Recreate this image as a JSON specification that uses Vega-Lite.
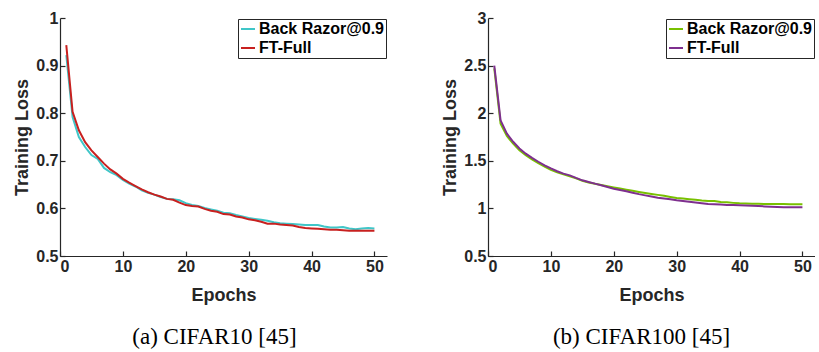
{
  "$schema": "https://vega.github.io/schema/vega-lite/v6.json",
  "padding": {"left": 13, "top": 10, "right": 0, "bottom": 0},
  "background": "white",
  "spacing": 54,
  "datasets": {
    "cifar10": [
      {"epoch":1,"method":"Back Razor@0.9","loss":0.922},{"epoch":1,"method":"FT-Full","loss":0.943},
      {"epoch":2,"method":"Back Razor@0.9","loss":0.792},{"epoch":2,"method":"FT-Full","loss":0.803},
      {"epoch":3,"method":"Back Razor@0.9","loss":0.750},{"epoch":3,"method":"FT-Full","loss":0.764},
      {"epoch":4,"method":"Back Razor@0.9","loss":0.729},{"epoch":4,"method":"FT-Full","loss":0.739},
      {"epoch":5,"method":"Back Razor@0.9","loss":0.712},{"epoch":5,"method":"FT-Full","loss":0.722},
      {"epoch":6,"method":"Back Razor@0.9","loss":0.704},{"epoch":6,"method":"FT-Full","loss":0.708},
      {"epoch":7,"method":"Back Razor@0.9","loss":0.685},{"epoch":7,"method":"FT-Full","loss":0.694},
      {"epoch":8,"method":"Back Razor@0.9","loss":0.676},{"epoch":8,"method":"FT-Full","loss":0.682},
      {"epoch":9,"method":"Back Razor@0.9","loss":0.670},{"epoch":9,"method":"FT-Full","loss":0.673},
      {"epoch":10,"method":"Back Razor@0.9","loss":0.660},{"epoch":10,"method":"FT-Full","loss":0.662},
      {"epoch":11,"method":"Back Razor@0.9","loss":0.652},{"epoch":11,"method":"FT-Full","loss":0.654},
      {"epoch":12,"method":"Back Razor@0.9","loss":0.646},{"epoch":12,"method":"FT-Full","loss":0.647},
      {"epoch":13,"method":"Back Razor@0.9","loss":0.638},{"epoch":13,"method":"FT-Full","loss":0.640},
      {"epoch":14,"method":"Back Razor@0.9","loss":0.633},{"epoch":14,"method":"FT-Full","loss":0.634},
      {"epoch":15,"method":"Back Razor@0.9","loss":0.629},{"epoch":15,"method":"FT-Full","loss":0.629},
      {"epoch":16,"method":"Back Razor@0.9","loss":0.624},{"epoch":16,"method":"FT-Full","loss":0.625},
      {"epoch":17,"method":"Back Razor@0.9","loss":0.620},{"epoch":17,"method":"FT-Full","loss":0.620},
      {"epoch":18,"method":"Back Razor@0.9","loss":0.619},{"epoch":18,"method":"FT-Full","loss":0.618},
      {"epoch":19,"method":"Back Razor@0.9","loss":0.617},{"epoch":19,"method":"FT-Full","loss":0.612},
      {"epoch":20,"method":"Back Razor@0.9","loss":0.611},{"epoch":20,"method":"FT-Full","loss":0.607},
      {"epoch":21,"method":"Back Razor@0.9","loss":0.607},{"epoch":21,"method":"FT-Full","loss":0.605},
      {"epoch":22,"method":"Back Razor@0.9","loss":0.605},{"epoch":22,"method":"FT-Full","loss":0.604},
      {"epoch":23,"method":"Back Razor@0.9","loss":0.601},{"epoch":23,"method":"FT-Full","loss":0.599},
      {"epoch":24,"method":"Back Razor@0.9","loss":0.598},{"epoch":24,"method":"FT-Full","loss":0.595},
      {"epoch":25,"method":"Back Razor@0.9","loss":0.595},{"epoch":25,"method":"FT-Full","loss":0.593},
      {"epoch":26,"method":"Back Razor@0.9","loss":0.591},{"epoch":26,"method":"FT-Full","loss":0.588},
      {"epoch":27,"method":"Back Razor@0.9","loss":0.590},{"epoch":27,"method":"FT-Full","loss":0.587},
      {"epoch":28,"method":"Back Razor@0.9","loss":0.586},{"epoch":28,"method":"FT-Full","loss":0.583},
      {"epoch":29,"method":"Back Razor@0.9","loss":0.583},{"epoch":29,"method":"FT-Full","loss":0.581},
      {"epoch":30,"method":"Back Razor@0.9","loss":0.580},{"epoch":30,"method":"FT-Full","loss":0.577},
      {"epoch":31,"method":"Back Razor@0.9","loss":0.578},{"epoch":31,"method":"FT-Full","loss":0.575},
      {"epoch":32,"method":"Back Razor@0.9","loss":0.576},{"epoch":32,"method":"FT-Full","loss":0.572},
      {"epoch":33,"method":"Back Razor@0.9","loss":0.574},{"epoch":33,"method":"FT-Full","loss":0.568},
      {"epoch":34,"method":"Back Razor@0.9","loss":0.571},{"epoch":34,"method":"FT-Full","loss":0.568},
      {"epoch":35,"method":"Back Razor@0.9","loss":0.569},{"epoch":35,"method":"FT-Full","loss":0.566},
      {"epoch":36,"method":"Back Razor@0.9","loss":0.568},{"epoch":36,"method":"FT-Full","loss":0.565},
      {"epoch":37,"method":"Back Razor@0.9","loss":0.567},{"epoch":37,"method":"FT-Full","loss":0.564},
      {"epoch":38,"method":"Back Razor@0.9","loss":0.566},{"epoch":38,"method":"FT-Full","loss":0.561},
      {"epoch":39,"method":"Back Razor@0.9","loss":0.565},{"epoch":39,"method":"FT-Full","loss":0.559},
      {"epoch":40,"method":"Back Razor@0.9","loss":0.565},{"epoch":40,"method":"FT-Full","loss":0.558},
      {"epoch":41,"method":"Back Razor@0.9","loss":0.565},{"epoch":41,"method":"FT-Full","loss":0.557},
      {"epoch":42,"method":"Back Razor@0.9","loss":0.562},{"epoch":42,"method":"FT-Full","loss":0.556},
      {"epoch":43,"method":"Back Razor@0.9","loss":0.560},{"epoch":43,"method":"FT-Full","loss":0.555},
      {"epoch":44,"method":"Back Razor@0.9","loss":0.560},{"epoch":44,"method":"FT-Full","loss":0.555},
      {"epoch":45,"method":"Back Razor@0.9","loss":0.561},{"epoch":45,"method":"FT-Full","loss":0.554},
      {"epoch":46,"method":"Back Razor@0.9","loss":0.558},{"epoch":46,"method":"FT-Full","loss":0.553},
      {"epoch":47,"method":"Back Razor@0.9","loss":0.556},{"epoch":47,"method":"FT-Full","loss":0.553},
      {"epoch":48,"method":"Back Razor@0.9","loss":0.558},{"epoch":48,"method":"FT-Full","loss":0.553},
      {"epoch":49,"method":"Back Razor@0.9","loss":0.559},{"epoch":49,"method":"FT-Full","loss":0.553},
      {"epoch":50,"method":"Back Razor@0.9","loss":0.558},{"epoch":50,"method":"FT-Full","loss":0.553}
    ],
    "cifar100": [
      {"epoch":1,"method":"Back Razor@0.9","loss":2.47},{"epoch":1,"method":"FT-Full","loss":2.50},
      {"epoch":2,"method":"Back Razor@0.9","loss":1.89},{"epoch":2,"method":"FT-Full","loss":1.925},
      {"epoch":3,"method":"Back Razor@0.9","loss":1.76},{"epoch":3,"method":"FT-Full","loss":1.785},
      {"epoch":4,"method":"Back Razor@0.9","loss":1.68},{"epoch":4,"method":"FT-Full","loss":1.70},
      {"epoch":5,"method":"Back Razor@0.9","loss":1.61},{"epoch":5,"method":"FT-Full","loss":1.63},
      {"epoch":6,"method":"Back Razor@0.9","loss":1.56},{"epoch":6,"method":"FT-Full","loss":1.575},
      {"epoch":7,"method":"Back Razor@0.9","loss":1.515},{"epoch":7,"method":"FT-Full","loss":1.53},
      {"epoch":8,"method":"Back Razor@0.9","loss":1.475},{"epoch":8,"method":"FT-Full","loss":1.49},
      {"epoch":9,"method":"Back Razor@0.9","loss":1.44},{"epoch":9,"method":"FT-Full","loss":1.453},
      {"epoch":10,"method":"Back Razor@0.9","loss":1.405},{"epoch":10,"method":"FT-Full","loss":1.42},
      {"epoch":11,"method":"Back Razor@0.9","loss":1.38},{"epoch":11,"method":"FT-Full","loss":1.39},
      {"epoch":12,"method":"Back Razor@0.9","loss":1.357},{"epoch":12,"method":"FT-Full","loss":1.365},
      {"epoch":13,"method":"Back Razor@0.9","loss":1.337},{"epoch":13,"method":"FT-Full","loss":1.347},
      {"epoch":14,"method":"Back Razor@0.9","loss":1.315},{"epoch":14,"method":"FT-Full","loss":1.32},
      {"epoch":15,"method":"Back Razor@0.9","loss":1.29},{"epoch":15,"method":"FT-Full","loss":1.295},
      {"epoch":16,"method":"Back Razor@0.9","loss":1.273},{"epoch":16,"method":"FT-Full","loss":1.277},
      {"epoch":17,"method":"Back Razor@0.9","loss":1.258},{"epoch":17,"method":"FT-Full","loss":1.26},
      {"epoch":18,"method":"Back Razor@0.9","loss":1.245},{"epoch":18,"method":"FT-Full","loss":1.243},
      {"epoch":19,"method":"Back Razor@0.9","loss":1.232},{"epoch":19,"method":"FT-Full","loss":1.225},
      {"epoch":20,"method":"Back Razor@0.9","loss":1.22},{"epoch":20,"method":"FT-Full","loss":1.207},
      {"epoch":21,"method":"Back Razor@0.9","loss":1.208},{"epoch":21,"method":"FT-Full","loss":1.193},
      {"epoch":22,"method":"Back Razor@0.9","loss":1.196},{"epoch":22,"method":"FT-Full","loss":1.18},
      {"epoch":23,"method":"Back Razor@0.9","loss":1.185},{"epoch":23,"method":"FT-Full","loss":1.165},
      {"epoch":24,"method":"Back Razor@0.9","loss":1.173},{"epoch":24,"method":"FT-Full","loss":1.15},
      {"epoch":25,"method":"Back Razor@0.9","loss":1.162},{"epoch":25,"method":"FT-Full","loss":1.137},
      {"epoch":26,"method":"Back Razor@0.9","loss":1.152},{"epoch":26,"method":"FT-Full","loss":1.125},
      {"epoch":27,"method":"Back Razor@0.9","loss":1.142},{"epoch":27,"method":"FT-Full","loss":1.113},
      {"epoch":28,"method":"Back Razor@0.9","loss":1.132},{"epoch":28,"method":"FT-Full","loss":1.105},
      {"epoch":29,"method":"Back Razor@0.9","loss":1.12},{"epoch":29,"method":"FT-Full","loss":1.095},
      {"epoch":30,"method":"Back Razor@0.9","loss":1.109},{"epoch":30,"method":"FT-Full","loss":1.085},
      {"epoch":31,"method":"Back Razor@0.9","loss":1.103},{"epoch":31,"method":"FT-Full","loss":1.077},
      {"epoch":32,"method":"Back Razor@0.9","loss":1.097},{"epoch":32,"method":"FT-Full","loss":1.07},
      {"epoch":33,"method":"Back Razor@0.9","loss":1.09},{"epoch":33,"method":"FT-Full","loss":1.063},
      {"epoch":34,"method":"Back Razor@0.9","loss":1.083},{"epoch":34,"method":"FT-Full","loss":1.055},
      {"epoch":35,"method":"Back Razor@0.9","loss":1.078},{"epoch":35,"method":"FT-Full","loss":1.046},
      {"epoch":36,"method":"Back Razor@0.9","loss":1.078},{"epoch":36,"method":"FT-Full","loss":1.044},
      {"epoch":37,"method":"Back Razor@0.9","loss":1.068},{"epoch":37,"method":"FT-Full","loss":1.04},
      {"epoch":38,"method":"Back Razor@0.9","loss":1.064},{"epoch":38,"method":"FT-Full","loss":1.037},
      {"epoch":39,"method":"Back Razor@0.9","loss":1.058},{"epoch":39,"method":"FT-Full","loss":1.035},
      {"epoch":40,"method":"Back Razor@0.9","loss":1.053},{"epoch":40,"method":"FT-Full","loss":1.032},
      {"epoch":41,"method":"Back Razor@0.9","loss":1.052},{"epoch":41,"method":"FT-Full","loss":1.03},
      {"epoch":42,"method":"Back Razor@0.9","loss":1.05},{"epoch":42,"method":"FT-Full","loss":1.027},
      {"epoch":43,"method":"Back Razor@0.9","loss":1.048},{"epoch":43,"method":"FT-Full","loss":1.024},
      {"epoch":44,"method":"Back Razor@0.9","loss":1.047},{"epoch":44,"method":"FT-Full","loss":1.021},
      {"epoch":45,"method":"Back Razor@0.9","loss":1.046},{"epoch":45,"method":"FT-Full","loss":1.018},
      {"epoch":46,"method":"Back Razor@0.9","loss":1.045},{"epoch":46,"method":"FT-Full","loss":1.016},
      {"epoch":47,"method":"Back Razor@0.9","loss":1.045},{"epoch":47,"method":"FT-Full","loss":1.013},
      {"epoch":48,"method":"Back Razor@0.9","loss":1.044},{"epoch":48,"method":"FT-Full","loss":1.012},
      {"epoch":49,"method":"Back Razor@0.9","loss":1.043},{"epoch":49,"method":"FT-Full","loss":1.011},
      {"epoch":50,"method":"Back Razor@0.9","loss":1.043},{"epoch":50,"method":"FT-Full","loss":1.011}
    ]
  },
  "hconcat": [
    {
      "width": 327,
      "height": 238,
      "title": {"text": "(a) CIFAR10 [45]", "orient": "bottom", "dx": -9},
      "data": {"name": "cifar10"},
      "mark": {"type": "line", "strokeWidth": 2},
      "encoding": {
        "x": {"field": "epoch", "type": "quantitative", "scale": {"domain": [0, 52], "nice": false}, "axis": {"values": [0, 10, 20, 30, 40, 50], "title": "Epochs"}},
        "y": {"field": "loss", "type": "quantitative", "scale": {"domain": [0.5, 1], "nice": false, "zero": false}, "axis": {"values": [0.5, 0.6, 0.7, 0.8, 0.9, 1], "format": "~g", "title": "Training Loss"}},
        "color": {"field": "method", "type": "nominal", "scale": {"domain": ["Back Razor@0.9", "FT-Full"], "range": ["#3fc6c8", "#c8201f"]}, "legend": {"title": null, "orient": "top-right", "offset": 1}}
      }
    },
    {
      "width": 327,
      "height": 238,
      "title": {"text": "(b) CIFAR100 [45]", "orient": "bottom", "dx": -10},
      "data": {"name": "cifar100"},
      "mark": {"type": "line", "strokeWidth": 2},
      "encoding": {
        "x": {"field": "epoch", "type": "quantitative", "scale": {"domain": [0, 52], "nice": false}, "axis": {"values": [0, 10, 20, 30, 40, 50], "title": "Epochs"}},
        "y": {"field": "loss", "type": "quantitative", "scale": {"domain": [0.5, 3], "nice": false, "zero": false}, "axis": {"values": [0.5, 1, 1.5, 2, 2.5, 3], "format": "~g", "title": "Training Loss"}},
        "color": {"field": "method", "type": "nominal", "scale": {"domain": ["Back Razor@0.9", "FT-Full"], "range": ["#78c000", "#7e2f8e"]}, "legend": {"title": null, "orient": "top-right", "offset": 1}}
      }
    }
  ],
  "resolve": {"scale": {"color": "independent"}, "legend": {"color": "independent"}},
  "config": {
    "view": {"stroke": null},
    "axis": {
      "grid": false,
      "domainColor": "#262626",
      "domainWidth": 1.2,
      "tickColor": "#262626",
      "tickSize": -5,
      "tickWidth": 1.2,
      "labelFont": "Liberation Sans",
      "labelFontWeight": "bold",
      "labelFontSize": 16,
      "labelColor": "#262626",
      "labelPadding": 7,
      "titleFont": "Liberation Sans",
      "titleFontWeight": "bold",
      "titleFontSize": 18,
      "titleColor": "#262626"
    },
    "axisY": {"titlePadding": 4},
    "axisX": {"titlePadding": 12},
    "legend": {
      "strokeColor": "#262626",
      "fillColor": "white",
      "padding": 2,
      "symbolType": "stroke",
      "symbolSize": 196,
      "symbolStrokeWidth": 2,
      "labelOffset": 3,
      "labelFont": "Liberation Sans",
      "labelFontWeight": "bold",
      "labelFontSize": 16,
      "labelColor": "black",
      "rowPadding": 3
    },
    "title": {
      "font": "Liberation Serif",
      "fontSize": 23,
      "fontWeight": "normal",
      "color": "black",
      "offset": 22
    }
  }
}
